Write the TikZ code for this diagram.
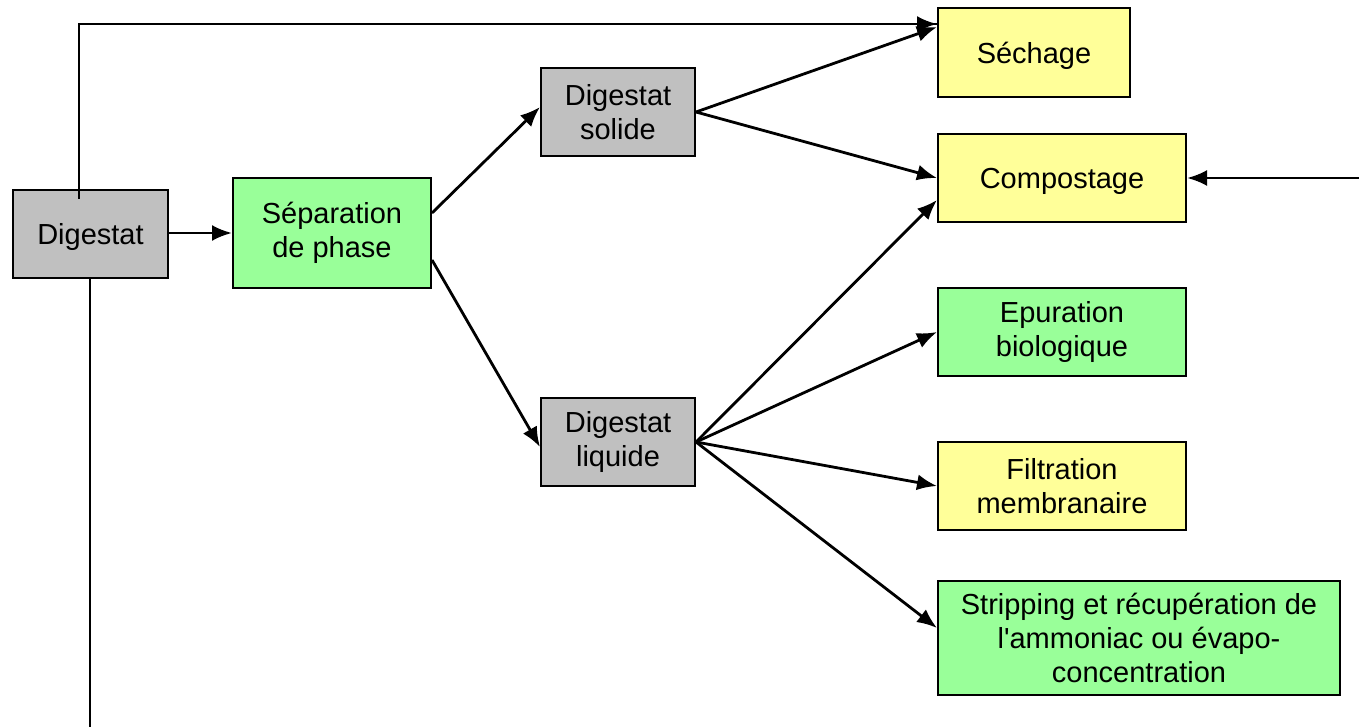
\documentclass[tikz,border=0pt]{standalone}
\usepackage{fontspec}
\setmainfont{Liberation Sans}
\usetikzlibrary{arrows.meta,calc}

\definecolor{grisbox}{rgb}{0.752941, 0.752941, 0.752941}
\definecolor{vertbox}{rgb}{0.600000, 1.000000, 0.600000}
\definecolor{jaunebox}{rgb}{1.000000, 1.000000, 0.600000}

\tikzset{
  procbox/.style={draw=black, line width=1pt, rectangle, align=center,
    inner sep=0pt, font=\fontsize{14.5}{17}\selectfont},
  uneligne/.style={text depth=0pt},
  fleche/.style={line width=1.4pt, -{Latex[length=10pt,width=8pt]}},
  trait/.style={line width=1.4pt}
}

\begin{document}
\begin{tikzpicture}[x=0.5pt,y=-0.5pt]
\useasboundingbox (0,0) rectangle (1359,727);
% boites
\node[procbox, uneligne, fill=grisbox, minimum width=77.5pt, minimum height=44pt] (digestat) at (90.5,234) {Digestat};
\node[procbox, fill=vertbox, minimum width=99pt, minimum height=55pt] (separation) at (332,233) {Séparation\\de phase};
\node[procbox, fill=grisbox, minimum width=77pt, minimum height=44pt] (solide) at (618,112) {Digestat\\solide};
\node[procbox, fill=grisbox, minimum width=77pt, minimum height=44pt] (liquide) at (618,442) {Digestat\\liquide};
\node[procbox, uneligne, fill=jaunebox, minimum width=96pt, minimum height=44.5pt] (sechage) at (1034,52.5) {Séchage};
\node[procbox, uneligne, fill=jaunebox, minimum width=124pt, minimum height=44pt] (compostage) at (1062,178) {Compostage};
\node[procbox, fill=vertbox, minimum width=124pt, minimum height=44pt] (epuration) at (1062,332) {Epuration\\biologique};
\node[procbox, fill=jaunebox, minimum width=124pt, minimum height=44pt] (filtration) at (1062,486) {Filtration\\membranaire};
\node[procbox, fill=vertbox, minimum width=201pt, minimum height=57pt] (stripping) at (1139,638) {Stripping et récupération de\\l\textquotesingle ammoniac ou évapo-\\concentration};
% points libres
\coordinate (hautdep) at ($(digestat.north)+(-11.5,10)$);
\coordinate (sechin) at ($(sechage.west)+(0,-28.5)$);
\coordinate (basfin) at (90,727);
\coordinate (compin) at (1359,178);
% liaisons
\draw[trait] (hautdep) |- (sechin);
\draw[fleche] (hautdep |- sechin) -- (sechin);
\draw[trait] (digestat.south -| basfin) -- (basfin);
\draw[fleche] (digestat.east |- separation.west) -- (separation.west);
\draw[fleche] ($(separation.east)+(0,-20)$) -- ($(solide.west)+(0,-5)$);
\draw[fleche] ($(separation.east)+(0,27)$) -- ($(liquide.west)+(0,5)$);
\draw[fleche] (solide.east) -- ($(sechage.west)+(0,-25.5)$);
\draw[fleche] (solide.east) -- (compostage.west);
\draw[fleche] (liquide.east) -- ($(compostage.west)+(0,22)$);
\draw[fleche] (liquide.east) -- (epuration.west);
\draw[fleche] (liquide.east) -- (filtration.west);
\draw[fleche] (liquide.east) -- ($(stripping.west)+(0,-10)$);
\draw[fleche] (compin) -- (compostage.east);
\end{tikzpicture}
\end{document}
